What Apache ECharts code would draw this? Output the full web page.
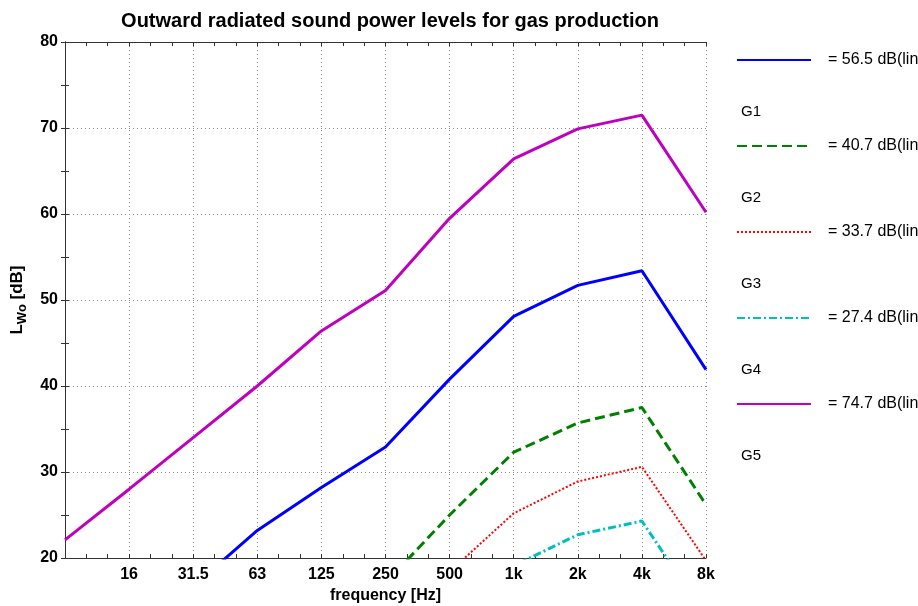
<!DOCTYPE html>
<html>
<head>
<meta charset="utf-8">
<script src="https://cdn.jsdelivr.net/npm/echarts@6/dist/echarts.min.js"></script>
<style>
html,body{margin:0;padding:0;background:#fff;}
#main{width:918px;height:606px;}
</style>
</head>
<body>
<div id="main"></div>
<script>
// Octave-band categories (x axis) and tick labels
var freqLabels = ['8', '16', '31.5', '63', '125', '250', '500', '1k', '2k', '4k', '8k'];
// Series values (dB)
var seriesNames = ['G1', 'G2', 'G3', 'G4', 'G5'];
var totals = ['= 56.5 dB(lin)', '= 40.7 dB(lin)', '= 33.7 dB(lin)', '= 27.4 dB(lin)', '= 74.7 dB(lin)'];
var g1 = [4.5, 10.5, 16.7, 23.2, 28.2, 32.9, 40.8, 48.1, 51.7, 53.4, 41.9];
var g2 = [-11.3, -5.3, 0.9, 7.4, 12.4, 17.1, 25.0, 32.3, 35.7, 37.5, 26.2];
var g3 = [-18.2, -12.2, -6.0, 0.5, 5.5, 10.2, 18.4, 25.2, 28.9, 30.6, 19.7];
var g4 = [-24.3, -18.3, -12.1, -5.6, -0.7, 4.0, 12.2, 19.1, 22.7, 24.3, 13.2];
var g5 = [22.1, 28.0, 34.0, 40.0, 46.4, 51.1, 59.5, 66.4, 69.9, 71.5, 60.2];
var yTicks = [20, 30, 40, 50, 60, 70, 80];

var allValues = [g1, g2, g3, g4, g5];
var colors = ['#0000ff', '#008000', '#ff0000', '#00bfbf', '#bf00bf'];
var widths = [3, 3, 2, 3, 3];
var dashes = ['solid', [10, 5], [2, 2], [8, 3, 2, 3], 'solid'];

var FONT = 'Liberation Sans, Arial, sans-serif';
var chart = echarts.init(document.getElementById('main'), null, {renderer: 'canvas'});

var series = seriesNames.map(function (n, k) {
  return {
    name: n,
    type: 'line',
    symbol: 'none',
    clip: true,
    data: allValues[k].map(function (v, i) { return [i, v]; }),
    lineStyle: {color: colors[k], width: widths[k], type: dashes[k]},
    itemStyle: {color: colors[k]}
  };
});

var axisLineStyle = {color: '#333', width: 1};
var tickStyle = {color: '#333', width: 1};
var gridLine = {show: true, lineStyle: {color: '#888', type: [1, 3], width: 1}};

var option = {
  animation: false,
  backgroundColor: '#fff',
  title: {
    text: 'Outward radiated sound power levels for gas production',
    left: 385, top: 6, textAlign: 'center',
    textStyle: {fontFamily: FONT, fontSize: 20, fontWeight: 'bold', color: '#000'}
  },
  grid: {left: 65, right: 212, top: 42, bottom: 48, containLabel: false, outerBoundsMode: 'none'},
  legend: {
    orient: 'vertical', left: 731, top: 47,
    itemWidth: 74, itemHeight: 14, itemGap: 70,
    data: seriesNames,
    itemStyle: {opacity: 0},
    formatter: function (name) { return totals[seriesNames.indexOf(name)]; },
    textStyle: {fontFamily: FONT, fontSize: 16, color: '#000', padding: [0, 0, 0, 12]}
  },
  xAxis: [{
    type: 'value', min: 0, max: freqLabels.length - 1, interval: 1,
    name: 'frequency [Hz]', nameLocation: 'middle', nameGap: 30,
    nameTextStyle: {fontFamily: FONT, fontSize: 16, fontWeight: 'bold', color: '#000'},
    axisLine: {show: true, lineStyle: axisLineStyle},
    axisTick: {show: true, inside: true, length: 4, lineStyle: tickStyle},
    minorTick: {show: true, splitNumber: 3, length: 4, lineStyle: tickStyle},
    axisLabel: {
      showMinLabel: false, margin: 9,
      fontFamily: FONT, fontSize: 16, fontWeight: 'bold', color: '#000',
      formatter: function (v) { return freqLabels[v] || ''; }
    },
    splitLine: gridLine
  }, {
    type: 'value', position: 'top', min: 0, max: freqLabels.length - 1, interval: 1,
    axisLine: {show: true, lineStyle: axisLineStyle},
    axisTick: {show: true, inside: true, length: 4, lineStyle: tickStyle},
    minorTick: {show: true, splitNumber: 3, length: 4, lineStyle: tickStyle},
    axisLabel: {show: false},
    splitLine: {show: false}
  }],
  yAxis: [{
    type: 'value', min: yTicks[0], max: yTicks[yTicks.length - 1], interval: 10,
    name: '{l|L}{s|Wo}{l| [dB]}', nameLocation: 'middle', nameGap: 36,
    nameTextStyle: {
      rich: {
        l: {fontFamily: FONT, fontSize: 17, fontWeight: 'bold', color: '#000', lineHeight: 24, verticalAlign: 'middle'},
        s: {fontFamily: FONT, fontSize: 13, fontWeight: 'bold', color: '#000', lineHeight: 24, verticalAlign: 'bottom'}
      }
    },
    axisLine: {show: true, lineStyle: axisLineStyle},
    axisTick: {show: true, inside: true, length: 4, lineStyle: tickStyle},
    minorTick: {show: true, splitNumber: 2, length: 4, lineStyle: tickStyle},
    axisLabel: {margin: 7, fontFamily: FONT, fontSize: 16, fontWeight: 'bold', color: '#000'},
    splitLine: gridLine
  }, {
    type: 'value', position: 'right', min: yTicks[0], max: yTicks[yTicks.length - 1], interval: 10,
    axisLine: {show: true, lineStyle: axisLineStyle},
    axisTick: {show: true, inside: true, length: 4, lineStyle: tickStyle},
    minorTick: {show: true, splitNumber: 2, length: 4, lineStyle: tickStyle},
    axisLabel: {show: false},
    splitLine: {show: false}
  }],
  graphic: seriesNames.map(function (n, k) {
    return {
      type: 'text', left: 741, top: 104 + k * 86,
      style: {text: n, font: '15px ' + FONT, fill: '#000'}
    };
  }),
  series: series
};
chart.setOption(option);
</script>
</body>
</html>
